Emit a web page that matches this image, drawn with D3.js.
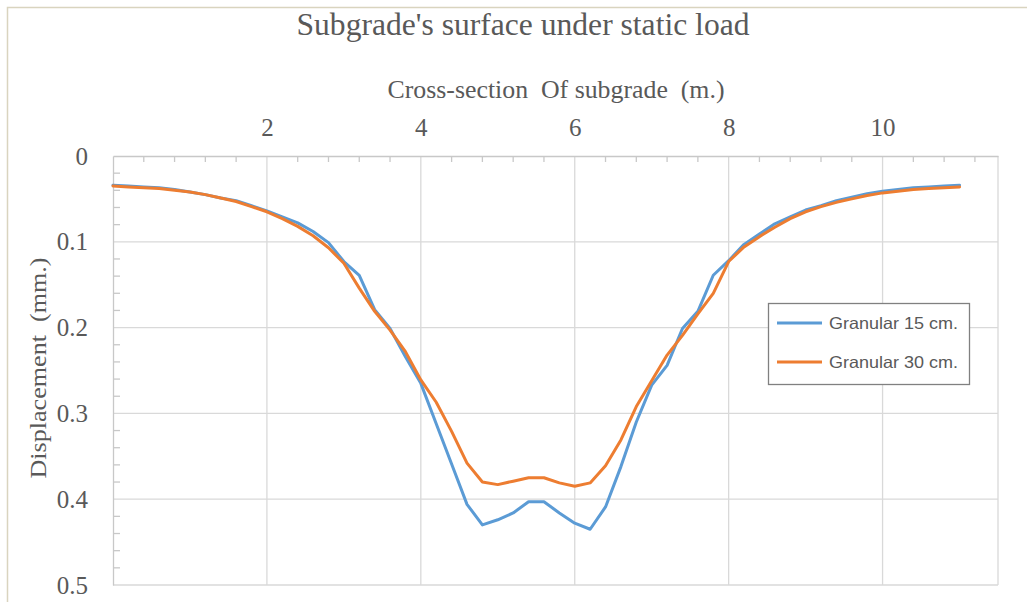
<!DOCTYPE html>
<html>
<head>
<meta charset="utf-8">
<script src="https://cdn.jsdelivr.net/npm/d3@7"></script>
<style>
  html, body { margin: 0; padding: 0; background: #ffffff; }
  svg { display: block; }
</style>
</head>
<body>
<svg id="chart" width="1027" height="602"></svg>
<script>
// Cross-section positions (m.)
const positions = [
  0.0, 0.2, 0.4, 0.6, 0.8, 1.0, 1.2, 1.4, 1.6, 1.8,
  2.0, 2.2, 2.4, 2.6, 2.8, 3.0, 3.2, 3.4, 3.6, 3.8,
  4.0, 4.2, 4.4, 4.6, 4.8, 5.0, 5.2, 5.4, 5.6, 5.8,
  6.0, 6.2, 6.4, 6.6, 6.8, 7.0, 7.2, 7.4, 7.6, 7.8,
  8.0, 8.2, 8.4, 8.6, 8.8, 9.0, 9.2, 9.4, 9.6, 9.8,
  10.0, 10.2, 10.4, 10.6, 10.8, 11.0
];

// Displacement (mm.) – granular layer 15 cm.
const granular15 = [
  0.034, 0.035, 0.036, 0.037, 0.039, 0.042, 0.045, 0.049, 0.052, 0.058,
  0.064, 0.071, 0.078, 0.088, 0.101, 0.123, 0.139, 0.179, 0.201, 0.234,
  0.265, 0.312, 0.359, 0.406, 0.430, 0.424, 0.416, 0.403, 0.403, 0.416,
  0.428, 0.435, 0.409, 0.362, 0.310, 0.267, 0.244, 0.201, 0.181, 0.139,
  0.122, 0.103, 0.091, 0.079, 0.071, 0.063, 0.058, 0.052, 0.048, 0.044,
  0.041, 0.039, 0.037, 0.036, 0.035, 0.034
];

// Displacement (mm.) – granular layer 30 cm.
const granular30 = [
  0.035, 0.036, 0.037, 0.038, 0.040, 0.042, 0.045, 0.049, 0.053, 0.059,
  0.065, 0.073, 0.082, 0.093, 0.107, 0.125, 0.154, 0.181, 0.203, 0.228,
  0.261, 0.287, 0.321, 0.358, 0.380, 0.383, 0.379, 0.375, 0.375, 0.381,
  0.385, 0.381, 0.361, 0.331, 0.292, 0.262, 0.232, 0.209, 0.184, 0.160,
  0.123, 0.106, 0.094, 0.083, 0.073, 0.065, 0.059, 0.054, 0.050, 0.046,
  0.043, 0.041, 0.039, 0.038, 0.037, 0.036
];

const seriesNames = ["Granular 15 cm.", "Granular 30 cm."];
const seriesColors = ["#5B9BD5", "#ED7D31"];
const xTicks = [2, 4, 6, 8, 10];
const xMinorTicks = [0.4, 0.8, 1.2, 1.6, 2.4, 2.8, 3.2, 3.6, 4.4, 4.8, 5.2, 5.6, 6.4, 6.8, 7.2, 7.6, 8.4, 8.8, 9.2, 9.6, 10.4, 10.8, 11.2];
const yTicks = [0, 0.1, 0.2, 0.3, 0.4, 0.5];
const yMinorTicks = [0.02, 0.04, 0.06, 0.08, 0.12, 0.14, 0.16, 0.18, 0.22, 0.24, 0.26, 0.28, 0.32, 0.34, 0.36, 0.38, 0.42, 0.44, 0.46, 0.48];

const svg = d3.select("#chart");
const W = 1027, H = 602;
const plot = { left: 113, right: 998, top: 156, bottom: 585 };
const textColor = "#595959";
const gridColor = "#d9d9d9";
const serif = "'Liberation Serif', 'Times New Roman', serif";

// outer chart frame
svg.append("rect")
  .attr("x", 7.5).attr("y", 7.5)
  .attr("width", W + 20).attr("height", H + 20)
  .attr("fill", "#ffffff")
  .attr("stroke", "#d9d4bf").attr("stroke-width", 1.5);

const x = d3.scaleLinear().domain([0, 11.5]).range([plot.left, plot.right]);
const y = d3.scaleLinear().domain([0, 0.5]).range([plot.top, plot.bottom]);

// gridlines
const grid = svg.append("g").attr("stroke", gridColor).attr("stroke-width", 1.3);
grid.selectAll("line.v").data(xTicks).join("line")
  .attr("x1", d => x(d)).attr("x2", d => x(d))
  .attr("y1", plot.top).attr("y2", plot.bottom);
grid.selectAll("line.h").data(yTicks.slice(1)).join("line")
  .attr("x1", plot.left).attr("x2", plot.right)
  .attr("y1", d => y(d)).attr("y2", d => y(d));
grid.append("line")
  .attr("x1", plot.right).attr("x2", plot.right)
  .attr("y1", plot.top).attr("y2", plot.bottom);

// minor ticks pointing into the plot
const minor = svg.append("g").attr("stroke", "#c8c8c8").attr("stroke-width", 1.3);
minor.selectAll("line.mx").data(xMinorTicks).join("line")
  .attr("x1", d => x(d)).attr("x2", d => x(d))
  .attr("y1", plot.top).attr("y2", plot.top + 6);
minor.selectAll("line.my").data(yMinorTicks).join("line")
  .attr("x1", plot.left).attr("x2", plot.left + 7)
  .attr("y1", d => y(d)).attr("y2", d => y(d));

// top x axis
const xAxis = svg.append("g")
  .attr("transform", `translate(0,${plot.top})`)
  .call(d3.axisTop(x).tickValues(xTicks).tickSize(0).tickPadding(20).tickFormat(d3.format("d")));
xAxis.select(".domain").attr("stroke", "#c8c8c8").attr("stroke-width", 1.3);
xAxis.selectAll("text")
  .attr("fill", textColor).style("font-family", serif).style("font-size", "25px");

// left y axis (reversed: 0 at top)
const yAxis = svg.append("g")
  .attr("transform", `translate(${plot.left},0)`)
  .call(d3.axisLeft(y).tickValues(yTicks).tickSize(0).tickPadding(25)
    .tickFormat(d => d === 0 ? "0" : d3.format(".1f")(d)));
yAxis.select(".domain").attr("stroke", "#c8c8c8").attr("stroke-width", 1.3);
yAxis.selectAll("text")
  .attr("fill", textColor).style("font-family", serif).style("font-size", "25px");

// series lines
const line = d3.line()
  .x((d, i) => x(positions[i]))
  .y(d => y(d));
[granular15, granular30].forEach((vals, k) => {
  svg.append("path")
    .datum(vals)
    .attr("d", line)
    .attr("fill", "none")
    .attr("stroke", seriesColors[k])
    .attr("stroke-width", 3)
    .attr("stroke-linejoin", "round")
    .attr("stroke-linecap", "round");
});

// titles
svg.append("text")
  .attr("x", 523).attr("y", 35)
  .attr("text-anchor", "middle")
  .attr("fill", textColor)
  .style("font-family", serif).style("font-size", "31px")
  .attr("textLength", 453).attr("lengthAdjust", "spacingAndGlyphs")
  .text("Subgrade's surface under static load");

svg.append("text")
  .attr("x", 556).attr("y", 98)
  .attr("text-anchor", "middle")
  .attr("fill", textColor)
  .style("font-family", serif).style("font-size", "25px")
  .attr("textLength", 337).attr("lengthAdjust", "spacingAndGlyphs")
  .text("Cross-section\u00a0 Of subgrade\u00a0 (m.)");

svg.append("text")
  .attr("transform", "translate(46,368) rotate(-90)")
  .attr("text-anchor", "middle")
  .attr("fill", textColor)
  .style("font-family", serif).style("font-size", "24px")
  .attr("textLength", 221).attr("lengthAdjust", "spacingAndGlyphs")
  .text("Displacement\u00a0 (mm.)");

// legend
const legend = svg.append("g");
legend.append("rect")
  .attr("x", 768.5).attr("y", 303.5).attr("width", 201).attr("height", 81)
  .attr("fill", "#ffffff").attr("stroke", "#808080").attr("stroke-width", 1.3);
seriesNames.forEach((name, k) => {
  const ly = 323 + k * 39;
  legend.append("line")
    .attr("x1", 777).attr("x2", 822).attr("y1", ly).attr("y2", ly)
    .attr("stroke", seriesColors[k]).attr("stroke-width", 3);
  legend.append("text")
    .attr("x", 829).attr("y", ly + 6)
    .attr("fill", textColor)
    .style("font-family", "'Liberation Sans', Arial, sans-serif").style("font-size", "16.5px")
    .attr("textLength", 129).attr("lengthAdjust", "spacingAndGlyphs")
    .text(name);
});
</script>
</body>
</html>
